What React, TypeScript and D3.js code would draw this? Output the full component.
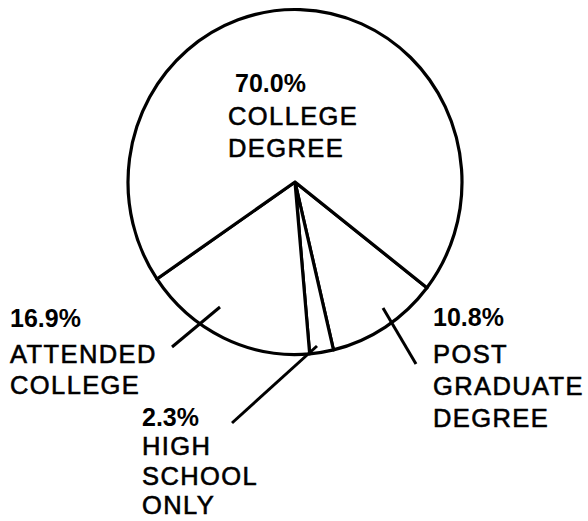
import React, { useEffect, useRef } from 'react';
import * as d3 from 'd3';

// slices, clockwise from the lower right
const categories = ['POST GRADUATE DEGREE', 'HIGH SCHOOL ONLY', 'ATTENDED COLLEGE', 'COLLEGE DEGREE'];
const shares = [10.8, 2.3, 16.9, 70.0];
const percentLabels = ['10.8%', '2.3%', '16.9%', '70.0%'];
const labelLines = [['POST', 'GRADUATE', 'DEGREE'], ['HIGH', 'SCHOOL', 'ONLY'], ['ATTENDED', 'COLLEGE'], ['COLLEGE', 'DEGREE']];

const App = () => {
  const ref = useRef<SVGSVGElement | null>(null);

  useEffect(() => {
    const width = 588;
    const height = 521;
    const cx = 295;
    const cy = 182;
    const rx = 167;
    const ry = 172.5;
    const font = '"Liberation Sans", Arial, Helvetica, sans-serif';

    const svg = d3.select(ref.current);
    svg.selectAll('*').remove();
    svg.attr('width', width).attr('height', height);

    svg.append('rect').attr('width', width).attr('height', height).attr('fill', 'white');

    const start = (127.8 * Math.PI) / 180;
    const pie = d3
      .pie<number>()
      .sort(null)
      .value((d) => d)
      .startAngle(start)
      .endAngle(start + 2 * Math.PI);

    const arc = d3.arc<d3.PieArcDatum<number>>().innerRadius(0).outerRadius(rx);

    const g = svg.append('g').attr('transform', `translate(${cx},${cy}) scale(1,${ry / rx})`);

    g.selectAll('path')
      .data(pie(shares))
      .enter()
      .append('path')
      .attr('d', arc)
      .attr('fill', 'white')
      .attr('stroke', 'black')
      .attr('stroke-width', 3.2)
      .attr('stroke-linejoin', 'round')
      .attr('vector-effect', 'non-scaling-stroke');

    // label placement (text layout only)
    const labelPos = [
      { x: 433, y: 326, gaps: [37, 32, 32] },
      { x: 142, y: 426, gaps: [29, 30, 29] },
      { x: 10, y: 327, gaps: [36, 31] },
      { x: 235, y: 92, gaps: [33, 32], dx: -7 },
    ];

    const leaders = [
      [383, 308, 416, 364],
      [317, 346, 232, 423],
      [220, 307, 172, 347],
    ];

    svg.selectAll('line.leader')
      .data(leaders)
      .enter()
      .append('line')
      .attr('class', 'leader')
      .attr('x1', (d) => d[0])
      .attr('y1', (d) => d[1])
      .attr('x2', (d) => d[2])
      .attr('y2', (d) => d[3])
      .attr('stroke', 'black')
      .attr('stroke-width', 3);

    categories.forEach((c, i) => {
      const p = labelPos[i];
      const t = svg.append('g').attr('class', 'label');
      t.append('text')
        .attr('x', p.x)
        .attr('y', p.y)
        .attr('font-family', font)
        .attr('font-size', 25)
        .attr('font-weight', 'bold')
        .attr('fill', 'black')
        .text(percentLabels[i]);
      let y = p.y;
      labelLines[i].forEach((w, j) => {
        y += p.gaps[j];
        t.append('text')
          .attr('x', p.x + (p.dx || 0))
          .attr('y', y)
          .attr('font-family', font)
          .attr('font-size', 25.5)
          .attr('letter-spacing', 1.4)
          .attr('fill', 'black')
          .attr('stroke', 'black')
          .attr('stroke-width', 0.6)
          .text(w);
      });
    });
  }, []);

  return <svg ref={ref} style={{ position: 'absolute', left: 0, top: 0 }}></svg>;
};

export default App;
